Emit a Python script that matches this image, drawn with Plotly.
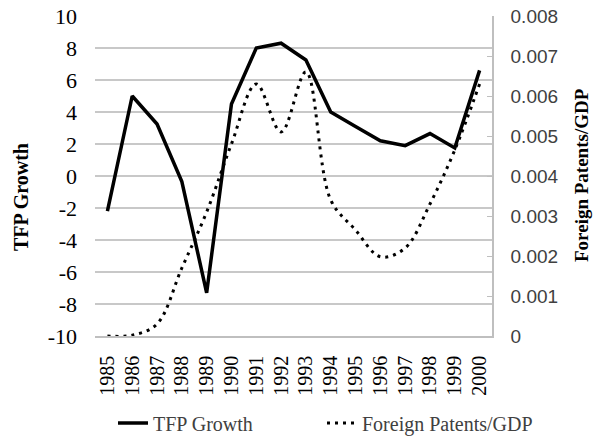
import plotly.graph_objects as go

years = [str(y) for y in range(1985, 2001)]
tfp_growth = [-2.2, 5.0, 3.25, -0.35, -7.3, 4.5, 8.0, 8.3, 7.25, 4.0, 3.1, 2.2, 1.9, 2.65, 1.75, 6.6]
patents_gdp = [0.0, 0.00002, 0.0003, 0.0017, 0.0031, 0.0048, 0.0063, 0.0051, 0.0066, 0.0034,
               0.00265, 0.00198, 0.0022, 0.0033, 0.00465, 0.0063]
left_ticks = list(range(-10, 11, 2))
left_labels = [str(v) for v in left_ticks]
right_ticks = [0, 0.001, 0.002, 0.003, 0.004, 0.005, 0.006, 0.007, 0.008]
right_labels = ["0", "0.001", "0.002", "0.003", "0.004", "0.005", "0.006", "0.007", "0.008"]

serif = "Liberation Serif, Times New Roman, serif"
sans = "Liberation Sans, Arial, sans-serif"

W, H = 599, 437
ML, MR, MT, MB = 95, 107, 16, 101

fig = go.Figure()
fig.add_trace(go.Scatter(x=years, y=tfp_growth, name="TFP Growth", mode="lines",
                         line=dict(color="#000000", width=3.5), yaxis="y", legend="legend"))
fig.add_trace(go.Scatter(x=years, y=patents_gdp, name="Foreign Patents/GDP", mode="lines",
                         line=dict(color="#000000", width=3, dash="3px,5px", shape="spline", smoothing=1),
                         yaxis="y2", legend="legend2"))

legend_font = dict(family=serif, size=20, color="#404040")
fig.update_layout(
    width=W, height=H,
    margin=dict(l=ML, r=MR, t=MT, b=MB, autoexpand=False),
    plot_bgcolor="white", paper_bgcolor="white",
    showlegend=True,
    legend=dict(orientation="h", x=113 / W, y=1 - 423 / H, xref="container", yref="container",
                xanchor="left", yanchor="middle", font=legend_font, bgcolor="rgba(0,0,0,0)"),
    legend2=dict(orientation="h", x=322 / W, y=1 - 423 / H, xref="container", yref="container",
                 xanchor="left", yanchor="middle", font=legend_font, bgcolor="rgba(0,0,0,0)"),
    xaxis=dict(type="category", range=[-0.5, len(years) - 0.5], tickangle=-90, showgrid=False,
               automargin=False, showline=True, linecolor="#bfbfbf", linewidth=1.5,
               ticks="", tickfont=dict(family=serif, size=20, color="#000000"),
               ticklabelstandoff=10),
    yaxis=dict(range=[-10, 10], tickvals=left_ticks, ticktext=left_labels, automargin=False,
               showgrid=True, gridcolor="#c8c8c8", gridwidth=1.5,
               zeroline=False, showline=False, ticks="",
               tickfont=dict(family=serif, size=22, color="#000000"), ticklabelstandoff=17),
    yaxis2=dict(range=[0, 0.008], tickvals=right_ticks, ticktext=right_labels, overlaying="y", side="right",
                automargin=False, showgrid=False, zeroline=False, showline=True,
                linecolor="#bfbfbf", linewidth=1.5,
                ticks="inside", ticklen=5, tickcolor="#bfbfbf",
                tickfont=dict(family=sans, size=19, color="#404040"), ticklabelstandoff=13),
    annotations=[
        dict(text="<b>TFP Growth</b>", x=21 / W, y=1 - 197 / H, xref="paper", yref="paper", showarrow=False,
             xanchor="center", yanchor="middle",
             textangle=-90, font=dict(family=serif, size=20, color="#000000")),
        dict(text="<b>Foreign Patents/GDP</b>", x=581 / W, y=1 - 175 / H, xref="paper", yref="paper",
             xanchor="center", yanchor="middle",
             showarrow=False, textangle=-90, font=dict(family=serif, size=19, color="#000000")),
    ],
)

# convert pixel positions (given as container fractions) of axis titles into paper coordinates
pw = W - ML - MR
ph = H - MT - MB
for a in fig.layout.annotations:
    px = a.x * W
    py = (1 - a.y) * H
    a.x = (px - ML) / pw
    a.y = (H - MB - py) / ph

fig.write_html("out.html", config={"displayModeBar": False},
               post_script="document.body.style.margin='0';")
